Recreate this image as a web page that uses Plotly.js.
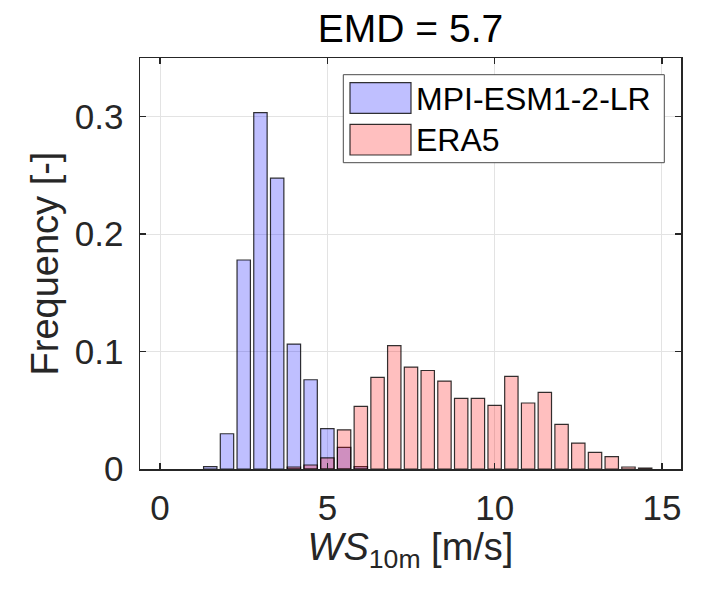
<!DOCTYPE html>
<html>
<head>
<meta charset="utf-8">
<script src="https://cdn.plot.ly/plotly-3.0.1.min.js"></script>
<style>html,body{margin:0;padding:0;background:#fff;}#chart{width:705px;height:593px;}</style>
</head>
<body>
<div id="chart"></div>
<script>
// ---- data ----
const mpiBins = [1.5, 2.0, 2.5, 3.0, 3.5, 4.0, 4.5, 5.0, 5.5, 6.0];
const mpiFreq = [0.002, 0.030, 0.178, 0.3035, 0.2477, 0.1064, 0.076, 0.0343, 0.0184, 0.002];
const eraBins = [4.0, 4.5, 5.0, 5.5, 6.0, 6.5, 7.0, 7.5, 8.0, 8.5, 9.0, 9.5, 10.0, 10.5, 11.0, 11.5, 12.0, 12.5, 13.0, 13.5, 14.0, 14.5];
const eraFreq = [0.0017, 0.0034, 0.0095, 0.0334, 0.0533, 0.078, 0.105, 0.0868, 0.0839, 0.0749, 0.0601, 0.0601, 0.0541, 0.0788, 0.0562, 0.0652, 0.038, 0.0221, 0.0141, 0.0105, 0.0017, 0.0008];
const seriesNames = ["MPI-ESM1-2-LR", "ERA5"];
const xTicks = [0, 5, 10, 15];
const yTicks = [0, 0.1, 0.2, 0.3];
const yTickLabels = ["0", "0.1", "0.2", "0.3"];
const titleText = "EMD = 5.7";

// ---- style ----
const FONT = "Liberation Sans, Arial, Helvetica, sans-serif";
const TXT = "#262626";
const blueFill = "rgba(0,0,255,0.25)";
const redFill = "rgba(255,0,0,0.25)";
const edge = "rgba(0,0,0,0.8)";

const traces = [
  {type: "bar", x: mpiBins, y: mpiFreq, width: 0.4, name: seriesNames[0],
   marker: {color: blueFill, line: {color: edge, width: 1.2}}, showlegend: false},
  {type: "bar", x: eraBins, y: eraFreq, width: 0.4, name: seriesNames[1],
   marker: {color: redFill, line: {color: edge, width: 1.2}}, showlegend: false}
];

// plot area in px: left 140, right 681, top 58, bottom 469
const L = 140, R = 681, T = 58, B = 469;
const px = v => (v - L) / (R - L);
const py = v => (B - v) / (B - T);

const shapes = [
  {type: "rect", xref: "paper", yref: "paper", x0: px(343.3), x1: px(664.3), y0: py(162.7), y1: py(74.7),
   line: {color: "#4a4a4a", width: 1}, fillcolor: "#ffffff", layer: "above"},
  {type: "rect", xref: "paper", yref: "paper", x0: px(350), x1: px(411), y0: py(113.3), y1: py(82.7),
   line: {color: edge, width: 1.2}, fillcolor: "rgb(191,191,255)", layer: "above"},
  {type: "rect", xref: "paper", yref: "paper", x0: px(350), x1: px(411), y0: py(155), y1: py(124.3),
   line: {color: edge, width: 1.2}, fillcolor: "rgb(255,191,191)", layer: "above"}
];

const annotations = [
  {xref: "paper", yref: "paper", x: px(414), y: py(98.5), xanchor: "left", yanchor: "middle",
   text: seriesNames[0], showarrow: false, font: {family: FONT, size: 32, color: "#000"}},
  {xref: "paper", yref: "paper", x: px(414), y: py(140), xanchor: "left", yanchor: "middle",
   text: seriesNames[1], showarrow: false, font: {family: FONT, size: 32, color: "#000"}}
];

const layout = {
  width: 705, height: 593,
  margin: {l: L, r: 705 - R, t: T, b: 593 - B, pad: 0},
  paper_bgcolor: "#fff", plot_bgcolor: "#fff",
  barmode: "overlay",
  font: {family: FONT, color: TXT},
  title: {text: titleText, font: {family: FONT, size: 39, color: "#000"},
          x: (L + R) / 2 / 705, xanchor: "center", xref: "container",
          y: 1 - 28 / 593, yanchor: "middle", yref: "container"},
  xaxis: {range: [-0.6, 15.57], tickvals: xTicks, ticktext: xTicks.map(String),
          ticks: "inside", ticklen: 6, tickwidth: 1.5, tickcolor: TXT,
          showline: true, linecolor: TXT, linewidth: 1.5, mirror: "ticks",
          showgrid: true, gridcolor: "#e3e3e3", gridwidth: 1, zeroline: false,
          tickfont: {family: FONT, size: 35, color: TXT}, ticklabelstandoff: 7,
          title: {text: "<i>WS</i><sub>10m</sub> [m/s]", font: {family: FONT, size: 38, color: TXT}, standoff: 8}},
  yaxis: {range: [0, 0.35], tickvals: yTicks, ticktext: yTickLabels,
          ticks: "inside", ticklen: 6, tickwidth: 1.5, tickcolor: TXT,
          showline: true, linecolor: TXT, linewidth: 1.5, mirror: "ticks",
          showgrid: true, gridcolor: "#e3e3e3", gridwidth: 1, zeroline: false,
          tickfont: {family: FONT, size: 35, color: TXT}, ticklabelstandoff: 8,
          title: {text: "Frequency [-]", font: {family: FONT, size: 38, color: TXT}, standoff: 4}},
  shapes: shapes,
  annotations: annotations
};

Plotly.newPlot("chart", traces, layout, {staticPlot: true, displayModeBar: false});
</script>
</body>
</html>
